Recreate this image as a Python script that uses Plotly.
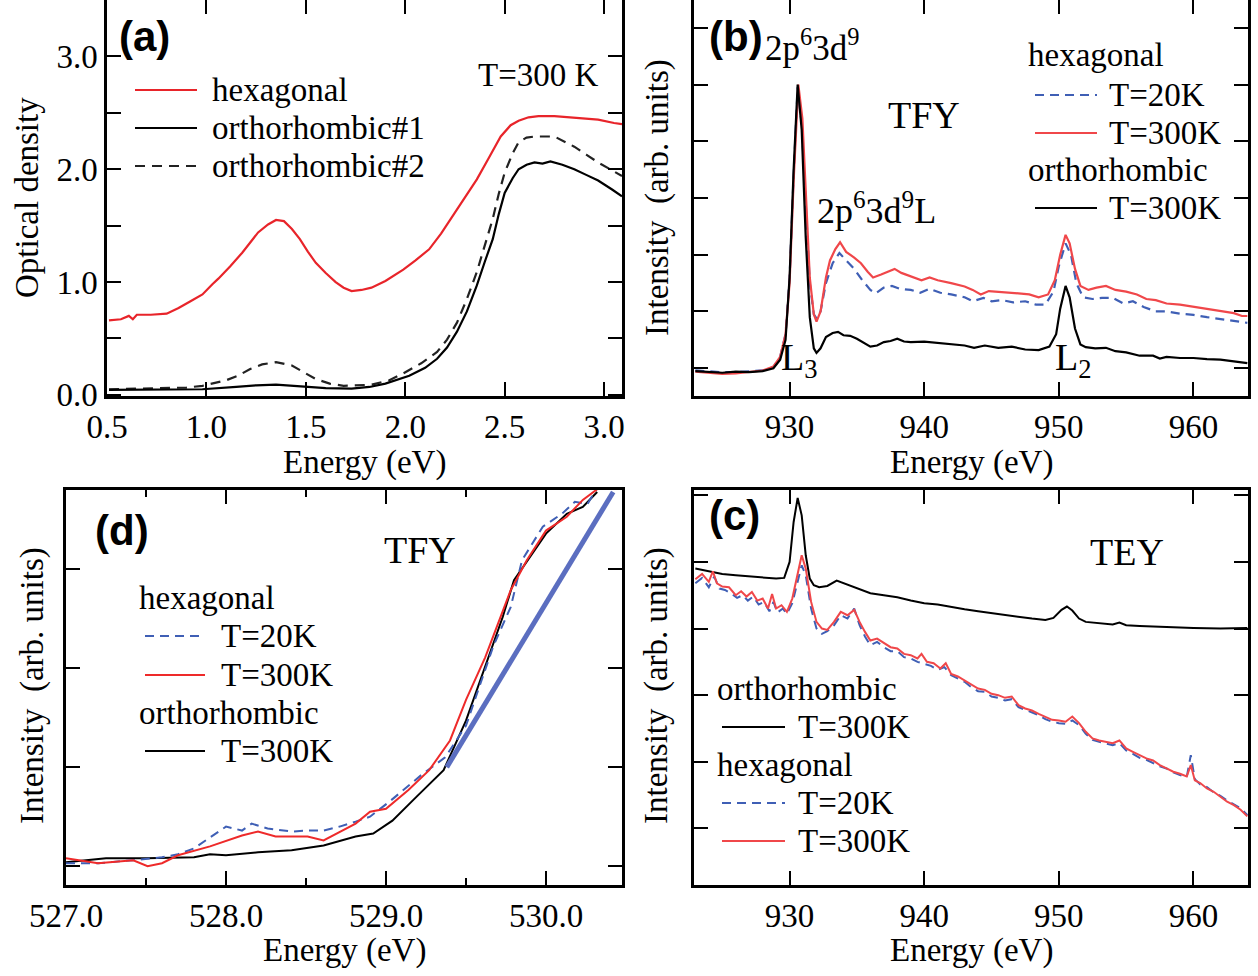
import plotly.graph_objects as go

W, H = 1258, 976
SERIF = "Liberation Serif"
SANS = "Liberation Sans"

# ---------------- Panel (a): optical density ----------------
a_hex_E = [0.51, 0.57, 0.61, 0.63, 0.65, 0.72, 0.8, 0.86, 0.92, 0.98, 1.03, 1.06, 1.12, 1.18, 1.26, 1.31, 1.35, 1.39,
           1.43, 1.47, 1.51, 1.55, 1.6, 1.65, 1.69, 1.73, 1.78, 1.83, 1.9, 1.99, 2.05, 2.12, 2.18, 2.24, 2.3, 2.36,
           2.42, 2.48, 2.53, 2.57, 2.62, 2.67, 2.75, 2.81, 2.9, 2.97, 3.05, 3.09]
a_hex_OD = [0.66, 0.67, 0.70, 0.67, 0.71, 0.71, 0.72, 0.77, 0.83, 0.89, 0.98, 1.03, 1.14, 1.26, 1.44, 1.51, 1.55, 1.54,
            1.47, 1.38, 1.27, 1.17, 1.08, 1.0, 0.95, 0.92, 0.93, 0.95, 1.01, 1.11, 1.19, 1.29, 1.43, 1.59, 1.75, 1.91,
            2.1, 2.29, 2.39, 2.43, 2.46, 2.47, 2.47, 2.46, 2.45, 2.44, 2.41, 2.40]
a_or1_E = [0.51, 0.7, 0.98, 1.15, 1.25, 1.35, 1.43, 1.51, 1.6, 1.73, 1.82, 1.9, 2.02, 2.1, 2.16, 2.21, 2.26, 2.31, 2.36,
           2.4, 2.44, 2.47, 2.5, 2.54, 2.57, 2.61, 2.65, 2.69, 2.73, 2.79, 2.85, 2.91, 2.97, 3.04, 3.09]
a_or1_OD = [0.045, 0.045, 0.05, 0.07, 0.085, 0.09, 0.08, 0.07, 0.06, 0.055, 0.07, 0.1, 0.17, 0.24, 0.32, 0.42, 0.56,
            0.74, 0.97, 1.18, 1.38, 1.6, 1.79, 1.92, 2.0, 2.04, 2.06, 2.05, 2.07, 2.04, 2.0, 1.95, 1.9, 1.82, 1.76]
a_or2_E = [0.51, 0.7, 0.9, 0.98, 1.1, 1.16, 1.22, 1.28, 1.35, 1.43, 1.49, 1.55, 1.62, 1.69, 1.83, 1.92, 1.99, 2.08,
           2.16, 2.21, 2.26, 2.31, 2.36, 2.4, 2.44, 2.47, 2.5, 2.54, 2.57, 2.61, 2.65, 2.75, 2.85, 2.91, 2.97, 3.04, 3.09]
a_or2_OD = [0.05, 0.06, 0.065, 0.08, 0.13, 0.17, 0.23, 0.27, 0.29, 0.26, 0.2, 0.14, 0.1, 0.08, 0.09, 0.13, 0.19, 0.28,
            0.38, 0.49, 0.64, 0.85, 1.09, 1.33, 1.56, 1.78, 1.97, 2.14, 2.24, 2.28, 2.29, 2.29, 2.2, 2.13, 2.06, 1.99, 1.94]

# ---------------- Panel (b): TFY, Cu L-edge ----------------
b_or_E = [923.0, 924.0, 925.0, 926.0, 927.0, 928.0, 928.8, 929.3, 929.7, 930.0, 930.3, 930.6, 930.9, 931.2, 931.5,
          931.8, 932.0, 932.3, 932.7, 933.2, 933.6, 934.0, 934.5, 935.0, 935.5, 936.0, 936.5, 937.0, 937.5, 938.0,
          938.5, 939.0, 940.0, 941.0, 942.0, 943.0, 943.7, 944.5, 945.5, 946.5, 947.5, 948.5, 949.3, 949.8, 950.1,
          950.5, 950.8, 951.2, 951.6, 952.0, 952.7, 953.5, 954.2, 955.0, 956.0, 957.0, 957.5, 958.0, 959.0, 960.0,
          961.0, 962.0, 963.0, 964.0]
b_or_I = [-0.05, -0.07, -0.08, -0.06, -0.07, -0.05, 0.0, 0.15, 0.5, 1.6, 3.5, 5.0, 4.2, 2.3, 0.9,
          0.35, 0.27, 0.35, 0.55, 0.62, 0.64, 0.58, 0.57, 0.52, 0.45, 0.38, 0.40, 0.46, 0.48, 0.52,
          0.47, 0.46, 0.47, 0.45, 0.43, 0.40, 0.36, 0.40, 0.36, 0.38, 0.33, 0.32, 0.38, 0.6, 1.05,
          1.45, 1.25, 0.7, 0.42, 0.37, 0.35, 0.36, 0.30, 0.28, 0.22, 0.22, 0.17, 0.20, 0.18, 0.18,
          0.16, 0.15, 0.12, 0.09]
b_h300_E = [923.0, 924.0, 925.0, 926.0, 927.0, 928.0, 928.8, 929.3, 929.7, 930.0, 930.3, 930.65, 930.95, 931.2, 931.5,
            931.8, 932.0, 932.3, 932.7, 933.0, 933.4, 933.75, 934.2, 934.8, 935.3, 935.8, 936.2, 936.8, 937.3, 937.8,
            938.3, 939.0, 939.8, 940.4, 941.0, 942.0, 943.0, 943.6, 944.2, 944.8, 945.5, 946.3, 947.0, 947.8, 948.5,
            949.2, 949.7, 950.1, 950.5, 950.8, 951.2, 951.6, 952.2, 952.8, 953.5, 954.2, 955.0, 955.8, 956.5, 957.2,
            958.0, 959.0, 960.0, 961.0, 962.0, 963.0, 963.6, 964.0]
b_h300_I = [-0.06, -0.08, -0.10, -0.09, -0.07, -0.04, 0.03, 0.2, 0.6, 1.5, 3.3, 5.0, 4.4, 3.0, 1.6,
            0.95, 0.82, 1.0, 1.6, 1.9, 2.1, 2.22, 2.05, 1.95, 1.85, 1.7, 1.6, 1.65, 1.7, 1.75,
            1.68, 1.62, 1.55, 1.6, 1.55, 1.5, 1.44, 1.38, 1.3, 1.36, 1.35, 1.33, 1.32, 1.3, 1.25,
            1.3, 1.55, 2.0, 2.35, 2.2, 1.75, 1.45, 1.38, 1.42, 1.45, 1.38, 1.35, 1.3, 1.22, 1.2,
            1.14, 1.12, 1.08, 1.04, 1.0, 0.97, 0.92, 0.92]
b_h20_E = [923.0, 924.0, 925.0, 926.0, 927.0, 928.0, 928.8, 929.3, 929.7, 930.0, 930.3, 930.6, 930.9, 931.2, 931.5,
           931.8, 932.0, 932.3, 932.7, 933.2, 933.7, 934.2, 934.8, 935.4, 936.0, 936.4, 937.0, 937.6, 938.2, 939.0,
           939.7, 940.4, 941.2, 942.0, 943.0, 943.6, 944.4, 945.0, 945.8, 946.6, 947.5, 948.3, 949.0, 949.6, 950.0,
           950.5, 950.9, 951.3, 951.8, 952.5, 953.2, 954.0, 954.8, 955.5, 956.3, 957.2, 958.0, 959.0, 960.0, 961.0,
           962.0, 963.0, 964.0]
b_h20_I = [-0.04, -0.06, -0.07, -0.07, -0.06, -0.04, 0.02, 0.2, 0.6, 1.6, 3.4, 4.95, 4.3, 2.8, 1.5,
           0.95, 0.88, 1.0, 1.5, 1.85, 2.03, 1.9, 1.75, 1.55, 1.38, 1.32, 1.42, 1.45, 1.4, 1.38,
           1.33, 1.40, 1.33, 1.30, 1.25, 1.18, 1.24, 1.18, 1.20, 1.16, 1.18, 1.12, 1.12, 1.35, 1.8,
           2.2, 2.0, 1.5, 1.25, 1.22, 1.24, 1.24, 1.14, 1.18, 1.08, 1.0, 1.0, 0.96, 0.94, 0.9,
           0.87, 0.83, 0.80]

# ---------------- Panel (c): TEY, Cu L-edge ----------------
c_or_E = [923.0, 924.0, 925.0, 926.0, 927.0, 928.0, 929.0, 929.6, 930.0, 930.3, 930.6, 930.9, 931.2, 931.5, 931.8,
          932.2, 932.8, 933.5, 934.0, 935.0, 936.0, 937.0, 938.0, 939.0, 940.0, 941.0, 942.0, 943.0, 944.0, 945.0,
          946.0, 947.0, 948.0, 949.0, 949.6, 950.2, 950.6, 951.0, 951.5, 952.0, 953.0, 954.0, 954.5, 955.0, 956.0,
          957.0, 958.0, 960.0, 962.0, 964.0]
c_or_I = [3.9, 3.86, 3.82, 3.80, 3.78, 3.77, 3.75, 3.76, 4.0, 4.6, 4.96, 4.7, 4.1, 3.75, 3.65,
          3.62, 3.64, 3.72, 3.68, 3.6, 3.53, 3.5, 3.47, 3.42, 3.38, 3.36, 3.32, 3.29, 3.26, 3.23,
          3.21, 3.18, 3.15, 3.13, 3.16, 3.28, 3.33, 3.27, 3.15, 3.1, 3.08, 3.06, 3.09, 3.05, 3.04,
          3.03, 3.02, 3.01, 3.0, 3.01]
c_h300_E = [923.0, 923.5, 924.0, 924.3, 924.6, 925.0, 925.5, 926.0, 926.4, 926.8, 927.2, 927.6, 928.0, 928.4, 928.7,
            929.0, 929.4, 929.8, 930.2, 930.6, 930.9, 931.2, 931.6, 932.0, 932.4, 932.8, 933.3, 933.8, 934.3, 934.8,
            935.2, 935.6, 936.0, 936.5, 937.0, 937.5, 938.0, 938.5, 939.0, 939.5, 939.8, 940.2, 940.7, 941.2, 941.6,
            942.0, 942.5, 943.0, 943.5, 944.0, 944.5, 945.0, 945.5, 946.0, 946.5, 947.0, 947.5, 948.0, 948.5, 949.0,
            949.5, 950.0, 950.5, 951.0, 951.5, 952.0, 952.5, 953.0, 953.5, 954.0, 954.5, 955.0, 955.5, 956.0, 956.5,
            957.0, 957.5, 958.0, 958.5, 959.0, 959.5, 959.8, 960.1, 960.5, 961.0, 961.5, 962.0, 962.5, 963.0, 963.5,
            964.0]
c_h300_I = [3.74, 3.82, 3.70, 3.86, 3.68, 3.63, 3.62, 3.50, 3.56, 3.48, 3.55, 3.42, 3.45, 3.30, 3.52,
            3.30, 3.35, 3.25, 3.45, 3.85, 4.10, 3.90, 3.40, 3.10, 3.00, 2.98, 3.10, 3.25, 3.20, 3.28,
            3.10, 2.95, 2.82, 2.85, 2.78, 2.72, 2.70, 2.62, 2.60, 2.55, 2.62, 2.50, 2.48, 2.40, 2.48,
            2.32, 2.28, 2.22, 2.15, 2.10, 2.08, 2.02, 2.00, 1.96, 1.98, 1.85, 1.80, 1.77, 1.72, 1.68,
            1.63, 1.62, 1.60, 1.68, 1.58, 1.45, 1.35, 1.32, 1.30, 1.28, 1.32, 1.20, 1.15, 1.10, 1.05,
            1.02, 0.95, 0.90, 0.85, 0.82, 0.78, 0.95, 0.72, 0.68, 0.60, 0.55, 0.47, 0.40, 0.35, 0.28,
            0.18]
c_h20_E = [923.0, 923.5, 924.0, 924.4, 924.8, 925.2, 925.7, 926.1, 926.5, 926.9, 927.3, 927.7, 928.1, 928.5, 928.8,
           929.1, 929.5, 929.8, 930.2, 930.6, 930.9, 931.2, 931.6, 932.0, 932.4, 932.8, 933.3, 933.8, 934.3, 934.8,
           935.2, 935.6, 936.0, 936.5, 937.0, 937.5, 938.0, 938.5, 939.0, 939.5, 940.0, 940.5, 941.0, 941.5, 942.0,
           942.5, 943.0, 943.5, 944.0, 944.5, 945.0, 945.5, 946.0, 946.5, 947.0, 947.5, 948.0, 948.5, 949.0, 949.5,
           950.0, 950.5, 951.0, 951.5, 952.0, 952.5, 953.0, 953.5, 954.0, 954.5, 955.0, 955.5, 956.0, 956.5, 957.0,
           957.5, 958.0, 958.5, 959.0, 959.5, 959.8, 960.1, 960.5, 961.0, 961.5, 962.0, 962.5, 963.0, 963.5, 964.0]
c_h20_I = [3.68, 3.76, 3.62, 3.78, 3.60, 3.58, 3.52, 3.46, 3.50, 3.42, 3.48, 3.36, 3.40, 3.26, 3.40,
           3.24, 3.30, 3.22, 3.38, 3.72, 3.95, 3.80, 3.30, 3.00, 2.92, 2.96, 3.05, 3.20, 3.15, 3.30,
           3.05, 2.88, 2.75, 2.80, 2.72, 2.66, 2.66, 2.57, 2.55, 2.50, 2.47, 2.44, 2.38, 2.42, 2.30,
           2.25, 2.20, 2.12, 2.06, 2.05, 1.98, 1.96, 1.92, 1.94, 1.82, 1.78, 1.74, 1.70, 1.64, 1.60,
           1.58, 1.57, 1.62, 1.55, 1.42, 1.33, 1.30, 1.28, 1.25, 1.28, 1.17, 1.12, 1.06, 1.03, 0.98,
           0.93, 0.90, 0.84, 0.80, 0.77, 1.10, 0.74, 0.66, 0.62, 0.54, 0.49, 0.42, 0.36, 0.30, 0.20]

# ---------------- Panel (d): TFY, O K pre-edge ----------------
d_or_E = [527.0, 527.25, 527.5, 527.8, 527.9, 528.0, 528.2, 528.41, 528.61, 528.81, 528.92, 529.04, 529.19, 529.36,
          529.5, 529.62, 529.73, 529.8, 529.9, 530.0, 530.13, 530.23, 530.32]
d_or_I = [0.04, 0.08, 0.08, 0.09, 0.12, 0.11, 0.14, 0.16, 0.21, 0.30, 0.33, 0.46, 0.70, 0.97,
          1.47, 2.01, 2.52, 2.89, 3.12, 3.36, 3.56, 3.63, 3.78]
d_h300_E = [527.0, 527.2, 527.42, 527.51, 527.6, 527.7, 527.9, 528.1, 528.2, 528.31, 528.51, 528.61, 528.81, 528.9,
            529.0, 529.14, 529.27, 529.4, 529.5, 529.62, 529.78, 529.88, 530.0, 530.13, 530.23, 530.33]
d_h300_I = [0.08, 0.03, 0.06, 0.0, 0.03, 0.11, 0.20, 0.31, 0.35, 0.30, 0.30, 0.26, 0.43, 0.55,
            0.58, 0.77, 0.97, 1.27, 1.68, 2.11, 2.79, 3.09, 3.39, 3.53, 3.70, 3.82]
d_h20_E = [527.0, 527.2, 527.42, 527.6, 527.7, 527.8, 528.0, 528.1, 528.16, 528.26, 528.41, 528.51, 528.61, 528.71,
           528.81, 528.9, 529.02, 529.22, 529.37, 529.5, 529.67, 529.78, 529.85, 529.98, 530.1, 530.18, 530.26, 530.33]
d_h20_I = [0.03, 0.03, 0.06, 0.09, 0.12, 0.18, 0.40, 0.36, 0.43, 0.38, 0.35, 0.36, 0.36, 0.40,
           0.45, 0.50, 0.65, 0.92, 1.10, 1.42, 2.22, 2.62, 3.09, 3.43, 3.56, 3.68, 3.66, 3.85]
d_fit_E = [529.38, 530.42]
d_fit_I = [1.0, 3.78]

RED_A = "#e8242a"
RED = "#f0474a"
BLUE = "#3f5fb5"
FIT_BLUE = "#5b6ec0"

fig = go.Figure()

def add(x, y, xa, ya, color, dash="solid", width=2.0):
    fig.add_trace(go.Scatter(x=x, y=y, mode="lines", xaxis=xa, yaxis=ya, showlegend=False,
                             hoverinfo="skip", line=dict(color=color, width=width, dash=dash)))

# (a)
add(a_hex_E, a_hex_OD, "x", "y", RED_A, width=2.2)
add(a_or2_E, a_or2_OD, "x", "y", "#222222", dash="10px,7px", width=2.2)
add(a_or1_E, a_or1_OD, "x", "y", "black", width=2.2)
# (b)
add(b_h20_E, b_h20_I, "x2", "y2", BLUE, dash="9px,6px", width=2.2)
add(b_h300_E, b_h300_I, "x2", "y2", RED, width=2.2)
add(b_or_E, b_or_I, "x2", "y2", "black", width=2.2)
# (d)
add(d_or_E, d_or_I, "x3", "y3", "black", width=2.0)
add(d_h20_E, d_h20_I, "x3", "y3", BLUE, dash="9px,6px", width=2.0)
add(d_h300_E, d_h300_I, "x3", "y3", "#ee2a2a", width=2.0)
add(d_fit_E, d_fit_I, "x3", "y3", FIT_BLUE, width=5)
# (c)
add(c_or_E, c_or_I, "x4", "y4", "black", width=2.0)
add(c_h20_E, c_h20_I, "x4", "y4", BLUE, dash="9px,6px", width=2.0)
add(c_h300_E, c_h300_I, "x4", "y4", RED, width=2.0)

FS = 33
TICKFONT = dict(family=SERIF, size=FS, color="black")

def axis(domain, rng, **kw):
    d = dict(domain=domain, range=rng, showline=True, linecolor="black", linewidth=2.5, mirror="ticks",
             ticks="inside", ticklen=14, tickwidth=2.2, tickcolor="black", showgrid=False, zeroline=False,
             tickfont=TICKFONT, fixedrange=True, automargin=False)
    d.update(kw)
    return d

def px(xp):
    return xp / W

def py(yp):
    return 1 - yp / H

xa_dom_left = [px(107), px(622)]
xb_dom = [px(694), px(1248)]
xd_dom = [px(66), px(622)]
top_dom = [py(396), 1.0]
bot_dom = [py(885), py(490)]

a_xt = [0.5, 1.0, 1.5, 2.0, 2.5, 3.0]
a_yt = [0.0, 0.5, 1.0, 1.5, 2.0, 2.5, 3.0]
a_ytxt = ["0.0", "", "1.0", "", "2.0", "", "3.0"]
b_xt = [930, 940, 950, 960]
b_yt = [0, 1, 2, 3, 4, 5, 6]
c_yt = [0, 1, 2, 3, 4, 5]
d_xt = [527.0, 528.0, 529.0, 530.0]
d_xminor = [527.5, 528.5, 529.5, 530.5]
d_yt = [0, 1, 2, 3]

fig.update_layout(
    width=W, height=H, margin=dict(l=0, r=0, t=0, b=0, pad=0, autoexpand=False),
    paper_bgcolor="white", plot_bgcolor="white",
    xaxis=axis(xa_dom_left, [0.5, 3.09], anchor="y", tickvals=a_xt, ticktext=["%.1f" % v for v in a_xt],
               ticklabelstandoff=0),
    yaxis=axis(top_dom, [-0.01, 3.5], anchor="x", tickvals=a_yt, ticktext=a_ytxt, ticklabelstandoff=0),
    xaxis2=axis(xb_dom, [922.9, 964.05], anchor="y2", tickvals=b_xt, ticktext=[str(v) for v in b_xt],
                ticklabelstandoff=0),
    yaxis2=axis(top_dom, [-0.49, 6.49], anchor="x2", tickvals=b_yt, showticklabels=False),
    xaxis3=axis(xd_dom, [527.0, 530.475], anchor="y3", tickvals=d_xt, ticktext=["%.1f" % v for v in d_xt],
                ticklabelstandoff=0,
                minor=dict(tickvals=d_xminor, ticks="inside", ticklen=7, tickwidth=2.2, tickcolor="black",
                           showgrid=False)),
    yaxis3=axis(bot_dom, [-0.19, 3.8], anchor="x3", tickvals=d_yt, showticklabels=False),
    xaxis4=axis(xb_dom, [922.9, 964.05], anchor="y4", tickvals=b_xt, ticktext=[str(v) for v in b_xt],
                ticklabelstandoff=0),
    yaxis4=axis(bot_dom, [-0.85, 5.08], anchor="x4", tickvals=c_yt, showticklabels=False),
)

ann = []
def text(x, y, s, size=FS, family=SERIF, xanchor="center", yanchor="middle", angle=0, bold=False):
    if bold:
        s = "<b>" + s + "</b>"
    ann.append(dict(x=px(x), y=py(y), xref="paper", yref="paper", text=s, showarrow=False,
                    xanchor=xanchor, yanchor=yanchor, textangle=angle,
                    font=dict(family=family, size=size, color="black")))

shapes = []
def sample(x0, x1, y, color, dash="solid", width=2.2):
    shapes.append(dict(type="line", xref="paper", yref="paper", x0=px(x0), x1=px(x1), y0=py(y), y1=py(y),
                       line=dict(color=color, width=width, dash=dash)))

# panel labels
text(144, 37, "(a)", size=42, family=SANS, bold=True)
text(736, 37, "(b)", size=42, family=SANS, bold=True)
text(122, 530, "(d)", size=42, family=SANS, bold=True)
text(734, 515, "(c)", size=42, family=SANS, bold=True)

# axis titles
text(27, 198, "Optical density", angle=-90)
text(657, 198, "Intensity\u00a0 (arb. units)", angle=-90)
text(32, 686, "Intensity\u00a0 (arb. units)", angle=-90)
text(656, 686, "Intensity\u00a0 (arb. units)", angle=-90)
text(364, 462, "Energy (eV)")
text(971, 462, "Energy (eV)")
text(344, 950, "Energy (eV)")
text(971, 950, "Energy (eV)")

# panel (a) legend & text
text(538, 75, "T=300 K")
sample(135, 197, 90, RED_A)
sample(135, 197, 128, "black")
sample(135, 197, 166, "#222222", dash="10px,7px")
text(210, 90, "hexagonal", xanchor="left")
text(210, 128, "orthorhombic#1", xanchor="left")
text(210, 166, "orthorhombic#2", xanchor="left")

# panel (b)
text(763, 46, "2p<sup>6</sup>3d<sup>9</sup>", size=35, xanchor="left")
text(924, 115, "TFY", size=38)
text(815, 208, "2p<sup>6</sup>3d<sup>9</sup>L", size=36, xanchor="left")
text(779, 360, "L<sub>3</sub>", size=38, xanchor="left")
text(1053, 360, "L<sub>2</sub>", size=38, xanchor="left")
text(1026, 55, "hexagonal", xanchor="left")
sample(1035, 1097, 95, BLUE, dash="9px,6px")
text(1107, 95, "T=20K", xanchor="left")
sample(1035, 1097, 133, RED)
text(1107, 133, "T=300K", xanchor="left")
text(1026, 170, "orthorhombic", xanchor="left")
sample(1035, 1097, 208, "black")
text(1107, 208, "T=300K", xanchor="left")

# panel (d)
text(420, 550, "TFY", size=38)
text(137, 598, "hexagonal", xanchor="left")
sample(145, 205, 636, BLUE, dash="9px,6px")
text(219, 636, "T=20K", xanchor="left")
sample(145, 205, 675, "#ee2a2a")
text(219, 675, "T=300K", xanchor="left")
text(137, 713, "orthorhombic", xanchor="left")
sample(145, 205, 751, "black")
text(219, 751, "T=300K", xanchor="left")

# panel (c)
text(1127, 552, "TEY", size=38)
text(715, 689, "orthorhombic", xanchor="left")
sample(722, 785, 727, "black")
text(796, 727, "T=300K", xanchor="left")
text(715, 765, "hexagonal", xanchor="left")
sample(722, 785, 803, BLUE, dash="9px,6px")
text(796, 803, "T=20K", xanchor="left")
sample(722, 785, 841, RED)
text(796, 841, "T=300K", xanchor="left")

fig.update_layout(annotations=ann, shapes=shapes)
fig.write_html("out.html")
